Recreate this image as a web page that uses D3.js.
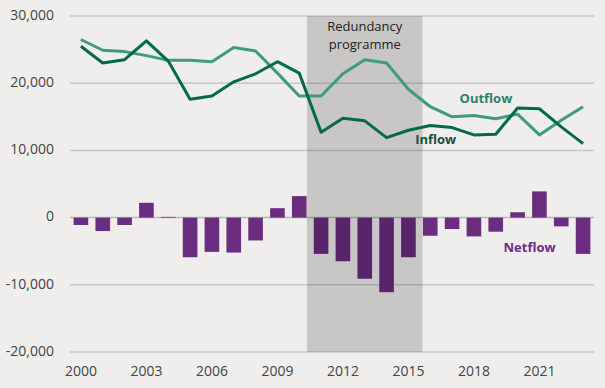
<!DOCTYPE html>
<html>
<head>
<meta charset="utf-8">
<script src="https://cdn.jsdelivr.net/npm/d3@7"></script>
<style>
  body { margin: 0; background: #efeeec; }
  svg { display: block; font-family: "Open Sans", sans-serif; }
</style>
</head>
<body>
<div id="chart"></div>
<script>
// chart values
const years = d3.range(2000, 2024);
const inflow = [25500, 23000, 23500, 26300, 23300, 17600, 18100, 20200, 21400, 23200, 21500,
                12700, 14800, 14400, 11900, 13000, 13700, 13400, 12300, 12400, 16300, 16200, 13500, 11000];
const outflow = [26500, 24900, 24700, 24100, 23400, 23400, 23200, 25300, 24800, 21500, 18100,
                 18100, 21400, 23500, 23000, 19100, 16500, 15000, 15200, 14700, 15400, 12300, 14500, 16500];
const netflow = [-1100, -2000, -1100, 2200, 100, -5900, -5100, -5200, -3400, 1400, 3200,
                 -5400, -6500, -9100, -11100, -5900, -2700, -1700, -2800, -2100, 800, 3900, -1300, -5400];
const yTicks = [-20000, -10000, 0, 10000, 20000, 30000];
const xTickYears = [2000, 2003, 2006, 2009, 2012, 2015, 2018, 2021];
const redundancy = [2010.35, 2015.65];

// set the dimensions and margins of the graph
const W = 605, H = 388;
const margin = {top: 16, right: 11, bottom: 36, left: 70};
const width = W - margin.left - margin.right,
    height = H - margin.top - margin.bottom;

const svg = d3.select("#chart").append("svg")
    .attr("width", W)
    .attr("height", H)
    .append("g")
    .attr("transform", "translate(" + margin.left + "," + margin.top + ")");

// scales
const x = d3.scaleBand().domain(years).range([0, width]).paddingInner(0.33).paddingOuter(0.165);
const xc = d => x(d) + x.bandwidth() / 2;
const step = x.step();
const xYear = v => xc(2000) + (v - 2000) * step;
const y = d3.scaleLinear().domain([-20000, 30000]).range([height, 0]);

// gridlines
svg.selectAll("line.grid")
    .data(yTicks)
    .enter().append("line")
    .attr("class", "grid")
    .attr("x1", 0).attr("x2", width)
    .attr("y1", d => y(d)).attr("y2", d => y(d))
    .attr("stroke", d => d === 0 ? "#b9b8b6" : "#c9c8c6")
    .attr("stroke-width", 1.5);

// netflow bars
svg.selectAll("rect.bar")
    .data(netflow)
    .enter().append("rect")
    .attr("class", "bar")
    .attr("x", (d, i) => x(years[i]))
    .attr("width", x.bandwidth())
    .attr("y", d => y(Math.max(0, d)))
    .attr("height", d => Math.abs(y(d) - y(0)))
    .attr("fill", "#6b2d7f");

// redundancy programme shading
svg.append("rect")
    .attr("x", xYear(redundancy[0]))
    .attr("width", xYear(redundancy[1]) - xYear(redundancy[0]))
    .attr("y", 0)
    .attr("height", height)
    .attr("fill", "rgba(0,0,0,0.16)");

svg.append("text")
    .attr("x", (xYear(redundancy[0]) + xYear(redundancy[1])) / 2)
    .attr("y", 15)
    .attr("text-anchor", "middle")
    .style("font-size", "13px")
    .attr("fill", "#222")
    .selectAll("tspan")
    .data(["Redundancy", "programme"])
    .enter().append("tspan")
    .attr("x", (xYear(redundancy[0]) + xYear(redundancy[1])) / 2)
    .attr("dy", (d, i) => i === 0 ? 0 : 18)
    .text(d => d);

// lines
const line = d3.line()
    .x((d, i) => xc(years[i]))
    .y(d => y(d));

svg.append("path")
    .datum(outflow)
    .attr("fill", "none")
    .attr("stroke", "#3d9b80")
    .attr("stroke-width", 3)
    .attr("stroke-linejoin", "round")
    .attr("d", line);

svg.append("path")
    .datum(inflow)
    .attr("fill", "none")
    .attr("stroke", "#006a4a")
    .attr("stroke-width", 3)
    .attr("stroke-linejoin", "round")
    .attr("d", line);

// series labels
const labels = [
  {text: "Outflow", year: 2018.55, value: 17600, color: "#2f7f6c"},
  {text: "Inflow", year: 2016.25, value: 11500, color: "#1a4d42"},
  {text: "Netflow", year: 2020.55, value: -4600, color: "#6b2d7f"}
];
svg.selectAll("text.lab")
    .data(labels)
    .enter().append("text")
    .attr("class", "lab")
    .attr("x", d => xYear(d.year))
    .attr("y", d => y(d.value))
    .attr("text-anchor", "middle")
    .attr("dominant-baseline", "middle")
    .style("font-size", "13px")
    .style("font-weight", "bold")
    .attr("fill", d => d.color)
    .text(d => d.text);

// y axis labels
svg.selectAll("text.ytick")
    .data(yTicks)
    .enter().append("text")
    .attr("class", "ytick")
    .attr("x", -16)
    .attr("y", d => y(d))
    .attr("text-anchor", "end")
    .attr("dominant-baseline", "middle")
    .style("font-size", "14px")
    .attr("fill", "#444")
    .text(d => d3.format(",")(d).replace("−", "-"));

// x axis labels
svg.selectAll("text.xtick")
    .data(xTickYears)
    .enter().append("text")
    .attr("class", "xtick")
    .attr("x", d => xc(d))
    .attr("y", height + 20)
    .attr("text-anchor", "middle")
    .attr("dominant-baseline", "middle")
    .style("font-size", "14px")
    .attr("fill", "#444")
    .text(d => d);
</script>
</body>
</html>
